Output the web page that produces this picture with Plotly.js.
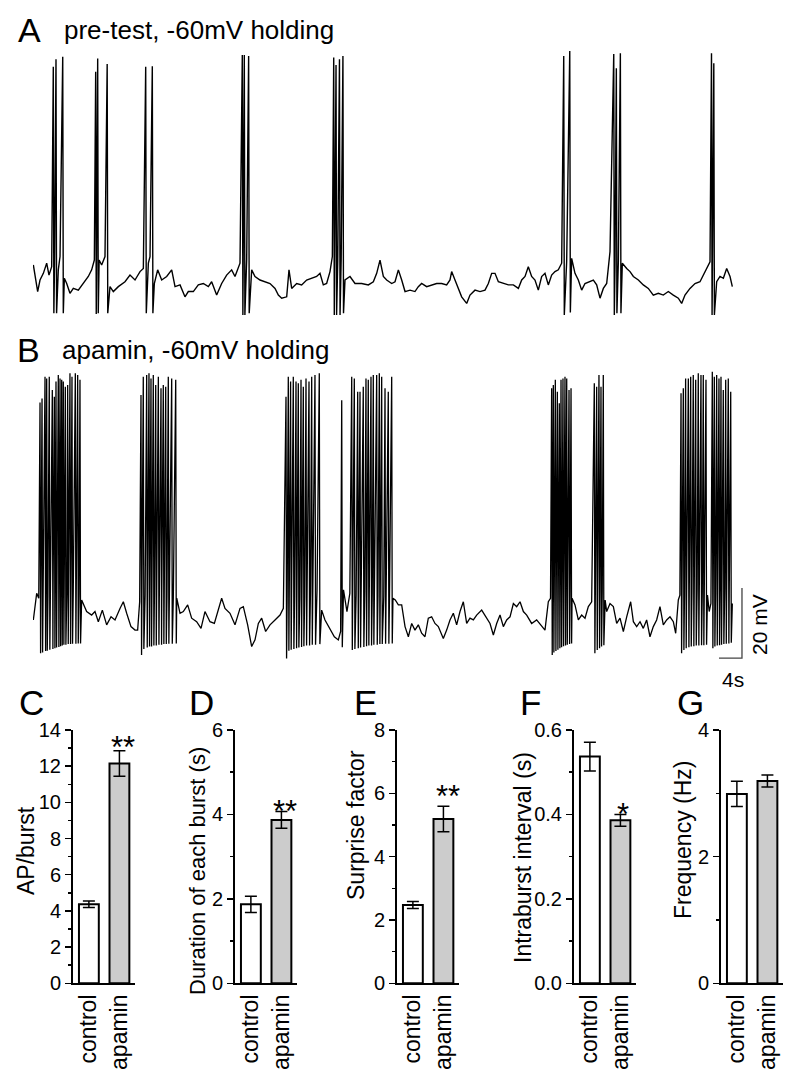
<!DOCTYPE html>
<html>
<head>
<meta charset="utf-8">
<script src="https://cdn.plot.ly/plotly-3.0.1.min.js"></script>
<style>html,body{margin:0;padding:0;background:#fff;}#plot{width:800px;height:1083px;}</style>
</head>
<body>
<div id="plot"></div>
<script>
// ---------- Trace A: pre-test (time in s, membrane potential in mV) ----------
const baseTimeA = [0.06,0.81,1.22,1.80,2.38,2.78,3.25,3.75,4.40,4.70,5.45,5.86,6.43,7.01,7.88,8.75,9.62,10.20,10.67,11.50,11.94,12.52,13.39,13.97,14.84,16.00,16.87,17.74,18.61,19.19,20.06,20.35,21.10,21.68,22.38,23.25,24.12,24.70,25.57,26.43,27.01,27.88,28.75,29.62,30.49,31.07,31.94,32.81,33.68,34.55,35.13,36.00,37.16,38.03,38.61,39.48,40.35,41.22,42.09,42.67,43.25,44.12,44.52,44.99,45.86,46.72,47.59,48.46,49.33,49.91,50.49,51.07,51.65,52.06,53.00,53.60,54.26,55.13,56.00,57.16,58.32,59.19,59.77,60.35,60.93,61.51,62.38,62.96,63.54,64.12,64.70,65.57,66.43,67.01,67.59,68.46,69.33,70.20,71.07,71.94,72.52,72.81,73.39,73.97,74.55,75.42,76.00,76.87,77.74,78.61,79.19,79.77,80.35,80.93,81.80,82.67,83.54,84.41,84.99,85.57,86.14,86.72,87.30,87.88,88.46,89.04,89.62,90.20,90.78,91.36,91.94,92.81,93.68,94.26,94.84,95.42,96.00,96.87,97.45,98.03,98.61,99.19,99.77,100.35,101.22,101.80,102.49,103.25,103.83,104.41,105.28,106.14,107.01,107.88,108.75,109.62,110.49,111.36,112.23,112.81,113.39,114.26,115.13,116.00,116.87,117.74,118.90,119.48,120.06,120.64,121.22,121.62];
const baseVoltA = [-55.7,-63.3,-60.0,-58.1,-55.2,-58.6,-56.2,-55.2,-57.1,-53.3,-59.5,-61.0,-63.8,-62.4,-62.9,-61.0,-59.0,-57.1,-54.3,-54.3,-55.7,-53.3,-61.9,-63.3,-61.9,-60.5,-58.6,-60.0,-57.6,-56.7,-55.2,-53.3,-61.0,-57.1,-60.0,-59.0,-57.1,-61.9,-61.4,-64.8,-63.3,-63.3,-61.4,-61.0,-61.9,-60.5,-64.3,-61.0,-58.6,-57.1,-59.0,-55.2,-54.3,-57.1,-59.0,-60.0,-60.5,-61.0,-62.4,-64.3,-65.2,-64.8,-57.1,-62.4,-61.0,-61.4,-60.0,-59.5,-59.0,-58.1,-61.4,-61.0,-57.6,-53.3,-54.5,-53.8,-60.0,-59.0,-61.0,-61.0,-61.4,-60.5,-58.1,-54.3,-59.0,-60.0,-61.0,-60.5,-57.1,-60.0,-63.3,-62.9,-63.3,-61.9,-61.0,-61.9,-61.4,-61.0,-61.0,-61.4,-60.0,-57.6,-60.0,-62.4,-64.8,-66.7,-64.3,-62.9,-63.3,-62.9,-61.0,-58.1,-58.1,-60.5,-61.0,-61.4,-61.4,-62.4,-60.0,-59.0,-56.2,-59.0,-60.0,-62.9,-59.0,-58.1,-61.4,-58.6,-57.6,-57.1,-55.2,-54.8,-53.8,-58.1,-60.0,-62.9,-61.0,-60.5,-60.0,-61.4,-65.2,-62.4,-61.0,-51.9,-55.2,-54.8,-55.2,-56.7,-57.6,-59.0,-60.0,-61.4,-62.4,-64.3,-63.8,-64.3,-63.3,-64.3,-65.2,-66.7,-64.3,-62.4,-61.0,-60.5,-57.6,-54.8,-60.5,-59.0,-59.5,-56.7,-59.0,-61.9];
const spikeTimeA   = [3.53,4.00,5.17,10.90,11.25,12.90,19.60,20.75,36.40,36.75,37.50,52.30,52.70,53.30,53.90,92.30,93.35,101.00,101.45,102.15,118.00,118.40];
const spikePeakA   = [0.9,3.1,3.8,-0.5,3.3,1.7,0.9,1.1,4.3,4.3,4.0,3.6,1.4,3.1,4.0,4.0,5.4,4.6,0.5,4.8,4.8,1.9];
const spikeTroughA = [-69.5,-69.5,-69.5,-69.7,-69.5,-69.5,-69.5,-69.5,-70.0,-70.0,-69.5,-70.0,-70.0,-70.0,-69.5,-70.0,-69.3,-70.0,-69.5,-69.5,-70.0,-70.0];

// ---------- Trace B: apamin ----------
const baseTimeB = [0.06,0.35,0.64,1.00,2.60,3.50,4.85,5.90,7.00,8.00,8.46,9.33,10.20,10.78,11.36,12.06,12.81,13.57,14.26,15.13,15.71,16.29,17.04,17.74,18.20,18.55,19.50,21.12,22.40,23.30,24.40,25.00,25.57,26.14,26.90,27.59,28.46,29.22,29.91,30.78,31.54,32.23,32.81,33.39,34.26,35.13,36.00,36.58,37.33,38.03,38.61,39.19,39.77,40.46,41.22,42.09,42.96,43.54,44.20,45.50,46.40,47.25,48.25,49.40,50.20,50.78,51.65,52.41,53.10,53.50,54.00,54.60,55.10,56.20,57.70,59.00,60.00,61.00,62.00,62.60,63.00,63.54,64.12,64.70,65.28,65.86,66.43,67.01,67.59,68.17,68.75,69.33,69.91,70.49,71.36,71.94,72.52,73.10,73.68,74.26,74.84,75.42,76.00,76.58,77.16,78.03,78.61,79.48,80.06,80.64,81.22,81.80,82.38,82.96,83.54,84.12,84.70,85.28,85.86,86.72,87.59,88.46,89.04,89.62,90.00,90.65,91.35,92.00,92.67,93.40,93.75,94.26,94.84,95.42,96.00,96.58,97.16,97.80,98.60,99.00,99.50,99.77,100.35,100.93,101.51,102.09,102.67,103.25,103.94,104.41,104.99,105.57,106.14,106.72,107.30,107.88,108.46,109.04,109.62,110.20,110.78,111.36,111.77,112.23,112.50,113.30,114.60,115.50,116.40,117.30,117.60,117.90,118.70,119.50,120.30,121.10,121.62];
const baseVoltB = [-65.7,-61.9,-58.1,-59.5,-59.0,-56.2,-56.2,-56.7,-57.6,-58.1,-60.0,-63.3,-64.3,-63.3,-66.2,-62.9,-67.1,-64.8,-65.7,-62.4,-60.5,-63.8,-67.6,-68.6,-68.6,-60.5,-58.6,-58.1,-58.6,-59.0,-59.5,-59.5,-63.8,-63.3,-61.4,-65.2,-66.2,-68.1,-63.3,-66.2,-66.7,-62.4,-59.5,-62.4,-63.8,-67.1,-62.4,-61.9,-67.1,-73.3,-71.4,-66.7,-65.2,-69.0,-67.1,-65.7,-64.3,-62.4,-59.5,-59.0,-59.5,-59.0,-58.1,-57.1,-62.9,-65.7,-68.1,-70.5,-71.4,-69.0,-57.1,-63.3,-58.1,-58.6,-57.6,-58.1,-58.6,-59.0,-59.0,-59.5,-60.0,-61.4,-61.4,-67.6,-70.5,-66.7,-68.6,-67.1,-69.5,-70.5,-65.2,-64.8,-66.7,-67.6,-71.0,-68.6,-65.7,-63.8,-67.1,-63.3,-60.5,-66.7,-65.2,-65.7,-64.3,-62.9,-64.3,-66.7,-70.0,-66.7,-64.3,-67.6,-65.7,-64.8,-61.0,-61.9,-60.5,-63.3,-64.3,-66.7,-65.7,-67.6,-68.6,-60.5,-59.5,-58.1,-57.1,-56.2,-56.7,-57.1,-59.5,-61.4,-65.7,-64.3,-65.2,-61.9,-60.5,-57.6,-57.1,-57.6,-60.0,-63.3,-61.0,-61.9,-66.7,-65.2,-69.0,-64.8,-60.5,-66.2,-67.6,-66.2,-68.1,-65.7,-70.5,-67.6,-65.7,-61.9,-67.1,-65.7,-64.8,-66.2,-69.5,-60.0,-58.6,-58.6,-58.1,-57.1,-57.6,-58.6,-63.3,-61.0,-58.1,-57.1,-56.7,-57.6,-61.0];
const spikeTimeB = [1.22,1.57,2.09,2.38,2.83,3.36,3.71,4.00,4.40,4.70,4.99,5.27,5.62,6.03,6.43,6.78,7.36,7.77,8.17,
  18.78,19.18,19.77,20.17,20.52,20.92,21.34,21.80,22.26,22.66,23.08,23.53,24.12,24.82,
  44.00,44.40,44.80,45.27,45.74,46.14,46.61,47.01,47.48,48.00,48.47,49.04,49.79,
  53.69,55.43,55.88,56.47,56.87,57.44,57.91,58.31,58.78,59.18,59.77,60.23,60.64,61.22,61.79,62.38,
  90.20,90.49,90.84,91.19,91.53,91.83,92.17,92.52,92.82,93.22,93.57,
  97.62,98.03,98.43,98.78,99.18,
  112.70,113.10,113.50,113.97,114.38,114.83,115.25,115.70,116.17,116.57,117.04,118.14,118.49,118.90,119.30,119.65,120.05,120.47,120.92,121.34];
const spikePeakB = [-3.6,-2.4,3.8,3.3,3.8,0.0,-1.9,2.4,4.3,3.3,2.9,2.4,0.9,1.4,4.8,3.8,4.8,4.3,2.9,
  -1.4,3.8,4.3,4.8,3.3,4.3,1.4,3.8,0.5,1.4,0.9,3.8,3.3,2.9,
  -1.9,3.8,2.4,3.8,2.4,1.9,2.9,0.9,3.3,2.4,3.8,4.3,4.8,
  -2.9,3.8,3.3,-0.5,-0.5,0.9,3.3,2.9,3.8,4.3,4.3,4.8,3.8,0.5,-0.5,3.8,
  0.5,1.4,2.9,-0.5,-3.8,2.9,3.3,3.8,3.3,0.0,0.5,
  1.9,0.9,4.3,0.9,4.3,
  -0.9,0.5,3.3,3.3,3.8,4.3,2.9,4.8,4.3,4.3,2.9,5.2,3.8,4.3,3.3,3.8,0.0,2.9,3.3,-0.5];
const spikeTroughB = [-75.2,-75.0,-74.6,-74.5,-74.2,-74.0,-73.8,-73.6,-73.4,-73.2,-73.0,-72.8,-72.8,-72.6,-72.6,-72.5,-72.5,-72.4,-72.4,
  -75.7,-74.0,-73.6,-73.3,-73.3,-73.0,-73.0,-72.8,-72.8,-72.6,-72.6,-72.5,-72.5,-72.4,
  -76.7,-74.5,-74.2,-74.0,-73.8,-73.6,-73.4,-73.2,-73.0,-73.0,-72.8,-72.8,-72.6,
  -73.5,-74.3,-74.0,-73.8,-73.6,-73.4,-73.2,-73.0,-73.0,-72.8,-72.8,-72.6,-72.6,-72.5,-72.5,-72.4,
  -75.7,-75.0,-74.6,-74.2,-73.8,-73.5,-73.2,-73.0,-72.8,-72.6,-72.4,
  -75.2,-74.3,-73.8,-73.3,-72.9,
  -75.2,-74.3,-73.8,-73.5,-73.3,-73.2,-73.0,-73.0,-72.9,-72.9,-72.8,-73.8,-73.3,-73.0,-72.9,-72.8,-72.6,-72.5,-72.4,-72.2];

// scale bar (origin in trace-B coordinates, lengths 4 s and 20 mV)
const scaleOrigin = [119.3, -76.6];
const scaleLen = [4, 20];

// ---------- Summary bar charts ----------
const groups = ['control', 'apamin'];
const apPerBurst = [4.37, 12.15],  apPerBurstErr = [0.18, 0.70];
const burstDur   = [1.87, 3.87],   burstDurErr   = [0.19, 0.20];
const surprise   = [2.47, 5.19],   surpriseErr   = [0.11, 0.40];
const intraInt   = [0.537, 0.386], intraIntErr   = [0.034, 0.014];
const freq       = [2.99, 3.195],  freqErr       = [0.20, 0.095];

const FONT = 'Liberation Sans, Arial, Helvetica, sans-serif';
const SPIKE_W = 0.1;

function buildTrace(bt, bv, st, sp, sr) {
  const pts = [];
  bt.forEach((t, i) => pts.push([t, bv[i]]));
  st.forEach((t, i) => { pts.push([t, sp[i]]); pts.push([t + SPIKE_W, sr[i]]); });
  pts.sort((a, b) => a[0] - b[0]);
  return { x: pts.map(p => p[0]), y: pts.map(p => p[1]) };
}

const trA = buildTrace(baseTimeA, baseVoltA, spikeTimeA, spikePeakA, spikeTroughA);
const trB = buildTrace(baseTimeB, baseVoltB, spikeTimeB, spikePeakB, spikeTroughB);

const data = [
  { type: 'scatter', mode: 'lines', x: trA.x, y: trA.y, xaxis: 'x', yaxis: 'y',
    line: { color: '#000', width: 1.4 }, hoverinfo: 'skip' },
  { type: 'scatter', mode: 'lines', x: trB.x, y: trB.y, xaxis: 'x2', yaxis: 'y2',
    line: { color: '#000', width: 1.3 }, hoverinfo: 'skip' },
  { type: 'scatter', mode: 'lines',
    x: [scaleOrigin[0], scaleOrigin[0] + scaleLen[0], scaleOrigin[0] + scaleLen[0]],
    y: [scaleOrigin[1], scaleOrigin[1], scaleOrigin[1] + scaleLen[1]],
    xaxis: 'x2', yaxis: 'y2', line: { color: '#444', width: 1.3 }, hoverinfo: 'skip' }
];

const panels = [
  { vals: apPerBurst, err: apPerBurstErr, ymax: 14, dt: 2, mdt: 1, fmt: 'd',  dom: [73, 135] },
  { vals: burstDur,   err: burstDurErr,   ymax: 6,  dt: 2, mdt: 1, fmt: 'd',  dom: [235, 297] },
  { vals: surprise,   err: surpriseErr,   ymax: 8,  dt: 2, mdt: 1, fmt: 'd',  dom: [397, 459] },
  { vals: intraInt,   err: intraIntErr,   ymax: 0.6, dt: 0.2, mdt: 0.1, fmt: '.1f', dom: [574, 636] },
  { vals: freq,       err: freqErr,       ymax: 4,  dt: 2, mdt: 1, fmt: 'd',  dom: [721, 783] }
];

const W = 800, H = 1083;
const barTop = 730, barBot = 983.3;

const layout = {
  width: W, height: H,
  margin: { l: 0, r: 0, t: 0, b: 0 },
  paper_bgcolor: '#fff', plot_bgcolor: 'rgba(0,0,0,0)',
  showlegend: false,
  font: { family: FONT, color: '#000' },
  xaxis:  { domain: [33 / W, (33 + 124 * 5.75) / W], range: [0, 124], visible: false, anchor: 'y' },
  yaxis:  { domain: [(H - 322) / H, (H - 42) / H], range: [-72, 8], visible: false, anchor: 'x' },
  xaxis2: { domain: [33 / W, (33 + 124 * 5.75) / W], range: [0, 124], visible: false, anchor: 'y2' },
  yaxis2: { domain: [(H - 663) / H, (H - 362) / H], range: [-78, 8], visible: false, anchor: 'x2' },
  annotations: [],
  shapes: []
};

panels.forEach((p, i) => {
  const n = i + 3;
  const xa = 'x' + n, ya = 'y' + n;
  data.push({
    type: 'bar', x: groups, y: p.vals, xaxis: xa, yaxis: ya, width: 0.65,
    marker: { color: ['#ffffff', '#cccccc'], line: { color: '#000', width: 2 } },
    error_y: { type: 'data', array: p.err, visible: true, color: '#000', thickness: 1.5, width: 6 },
    hoverinfo: 'skip'
  });
  layout['xaxis' + n] = {
    domain: [p.dom[0] / W, p.dom[1] / W], anchor: ya, type: 'category',
    range: [-0.52, 1.51], showline: true, linewidth: 2, linecolor: '#000',
    ticks: '', tickangle: -90, tickfont: { size: 23, family: FONT, color: '#000' },
    showgrid: false, zeroline: false, fixedrange: true
  };
  layout['yaxis' + n] = {
    domain: [(H - barBot) / H, (H - barTop) / H], anchor: xa,
    range: [0, p.ymax], dtick: p.dt, tick0: 0, tickformat: p.fmt,
    showline: true, linewidth: 2, linecolor: '#000',
    ticks: 'outside', ticklen: 6, tickwidth: 1.5, tickcolor: '#000',
    minor: { dtick: p.mdt, tick0: 0, ticks: 'outside', ticklen: 3.5, tickwidth: 1.5, tickcolor: '#000', showgrid: false },
    tickfont: { size: 20, family: FONT, color: '#000' },
    showgrid: false, zeroline: false, fixedrange: true
  };
});

function ann(text, px, py, size, opts) {
  layout.annotations.push(Object.assign({
    text: text, xref: 'paper', yref: 'paper', x: px / W, y: 1 - py / H,
    xanchor: 'center', yanchor: 'middle', showarrow: false,
    font: { family: FONT, size: size, color: '#000' }
  }, opts || {}));
}

// panel letters and trace headers
ann('A', 29.5, 30, 34);
ann('pre-test, -60mV holding', 62, 30, 26, { xanchor: 'left' });
ann('B', 29, 350, 34);
ann('apamin, -60mV holding', 60, 350, 26, { xanchor: 'left' });
ann('C', 31.5, 702.5, 35);
ann('D', 201.7, 702.5, 35);
ann('E', 365, 702.5, 35);
ann('F', 530, 702.5, 35);
ann('G', 690.8, 702.5, 35);

// scale bar labels
ann('20 mV', 759, 625, 21, { textangle: -90 });
ann('4s', 733, 679, 21);

// y-axis titles
ann('AP/burst', 26, 851, 23, { textangle: -90 });
ann('Duration of each burst (s)', 197, 871, 22, { textangle: -90 });
ann('Surprise factor', 356, 825, 23, { textangle: -90 });
ann('Intraburst interval (s)', 523, 858, 23, { textangle: -90 });
ann('Frequency (Hz)', 683, 840, 23, { textangle: -90 });

// significance marks
ann('**', 123.3, 747, 31);
ann('**', 285.3, 812, 31);
ann('**', 447.7, 796, 31);
ann('*', 623.3, 814, 31);

Plotly.newPlot('plot', data, layout, { staticPlot: true, displayModeBar: false });
</script>
</body>
</html>
